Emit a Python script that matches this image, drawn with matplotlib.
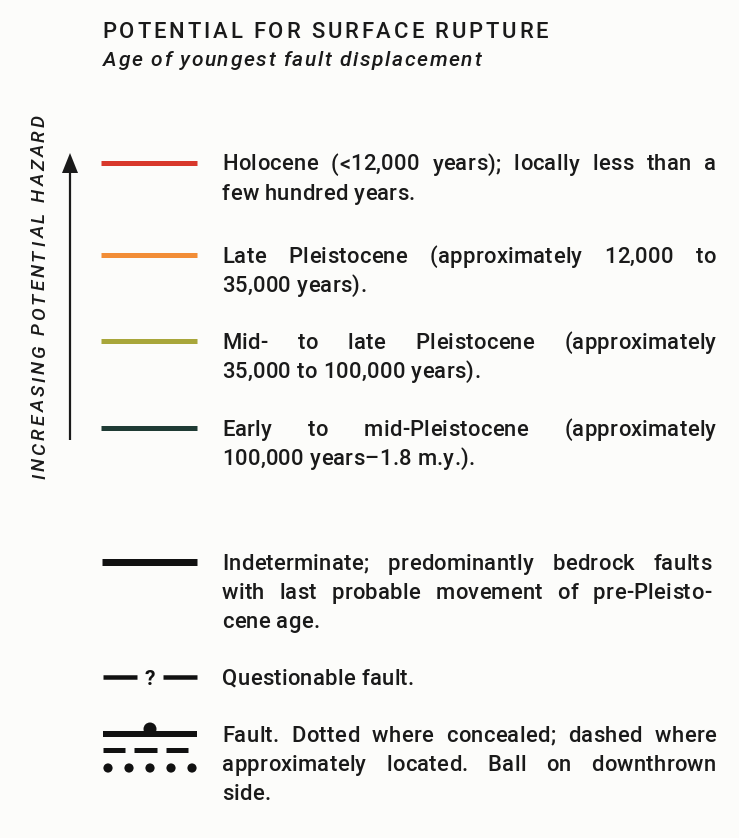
import matplotlib
matplotlib.use("Agg")
import matplotlib.pyplot as plt
from matplotlib import font_manager as fm
from matplotlib.textpath import TextPath
from matplotlib.patches import Circle, Polygon

# ---------------- data ----------------
TITLE = "POTENTIAL FOR SURFACE RUPTURE"
SUBTITLE = "Age of youngest fault displacement"
AXIS_LABEL = "INCREASING POTENTIAL HAZARD"

AGE_COLORS = ["#d8382b", "#f28d36", "#a8a63a", "#1f3b34"]
AGE_LABELS = [
    ["Holocene (<12,000 years); locally less than a", "few hundred years."],
    ["Late Pleistocene (approximately 12,000 to", "35,000 years)."],
    ["Mid- to late Pleistocene (approximately", "35,000 to 100,000 years)."],
    ["Early to mid-Pleistocene (approximately", "100,000 years\u20131.8 m.y.)."],
]
OTHER_LABELS = [
    ["Indeterminate; predominantly bedrock faults",
     "with last probable movement of pre-Pleisto-",
     "cene age."],
    ["Questionable fault."],
    ["Fault. Dotted where concealed; dashed where",
     "approximately located. Ball on downthrown",
     "side."],
]
N_DASHES = 3
N_DOTS = 5

# ---------------- layout ----------------
DPI = 100
W, H = 739, 838
BG = "#fcfcfa"
INK = "#1a1a1a"

avail = {f.name for f in fm.fontManager.ttflist}
PREF = ["Roboto", "Liberation Sans", "DejaVu Sans"]
FAM = next(f for f in PREF if f in avail or f == "DejaVu Sans")
WEIGHT = 500

fig = plt.figure(figsize=(W / DPI, H / DPI), dpi=DPI, facecolor=BG)
ax = fig.add_axes([0, 0, 1, 1])
ax.set_xlim(0, W)
ax.set_ylim(H, 0)
ax.axis("off")
ax.set_facecolor(BG)

_cache = {}


def adv(c, size, style):
    key = (c, size, style)
    if key not in _cache:
        fp = fm.FontProperties(family=FAM, style=style, weight=WEIGHT)
        a = TextPath((0, 0), "x" + c + "x", size=size, prop=fp).get_extents().width
        b = TextPath((0, 0), "xx", size=size, prop=fp).get_extents().width
        _cache[key] = a - b
    return _cache[key]


def tracking_for(s, size, style, target):
    tot = sum(adv(c, size, style) for c in s)
    return (target - tot) / (len(s) - 1)


def draw_line(x0, y0, s, size, style="normal", track=0.0, target=None,
              rotation=0, color=INK):
    advs = [adv(c, size, style) for c in s]
    nat = sum(advs) + track * (len(s) - 1)
    nsp = s.count(" ")
    extra = (target - nat) / nsp if (target is not None and nsp) else 0.0
    pos = 0.0
    for c, a in zip(s, advs):
        if c != " ":
            if rotation == 90:
                xy = (x0, y0 - pos)
            else:
                xy = (x0 + pos, y0)
            ax.text(*xy, c, fontsize=size * 72 / DPI, family=FAM, style=style,
                    weight=WEIGHT, color=color, ha="left", va="baseline",
                    rotation=rotation, rotation_mode="anchor")
        pos += a + track + (extra if c == " " else 0.0)


# title & subtitle
TS = 22
draw_line(102, 38.5, TITLE, TS, track=tracking_for(TITLE, TS, "normal", 446))
draw_line(103, 65.5, SUBTITLE, 21, style="italic",
          track=tracking_for(SUBTITLE, 21, "italic", 378))

# rotated axis label + arrow
RS = 19
draw_line(45, 479, AXIS_LABEL, RS, style="italic", rotation=90,
          track=tracking_for(AXIS_LABEL, RS, "italic", 364))
ax.plot([70, 70], [440, 168], color=INK, lw=1.6, solid_capstyle="butt")
ax.add_patch(Polygon([(70, 153), (62, 173), (78, 173)], closed=True,
                     color=INK, lw=0))

# body text
BS = 22
BTRACK = tracking_for("Questionable fault.", BS, "normal", 192)
TX = 222
RIGHT = 716
LSP = 29


def paragraph(y_sym, lines, right=RIGHT):
    for i, ln in enumerate(lines):
        last = i == len(lines) - 1
        draw_line(TX, y_sym + 7.5 + i * LSP, ln, BS, track=BTRACK,
                  target=None if last else right - TX)


X0, X1 = 101, 197
age_y = [163, 255, 341, 428]
for y, col, lines in zip(age_y, AGE_COLORS, AGE_LABELS):
    ax.plot([X0, X1], [y, y], color=col, lw=5 * 72 / DPI, solid_capstyle="butt")
    paragraph(y, lines)

# indeterminate
y_ind = 562
ax.plot([X0 + 1, X1], [y_ind, y_ind], color="#111111", lw=7 * 72 / DPI,
        solid_capstyle="butt")
paragraph(y_ind, OTHER_LABELS[0], right=711)

# questionable
y_q = 677
ax.plot([103, 137], [y_q, y_q], color="#111111", lw=4.5 * 72 / DPI,
        solid_capstyle="butt")
ax.plot([163, X1], [y_q, y_q], color="#111111", lw=4.5 * 72 / DPI,
        solid_capstyle="butt")
ax.text(150, y_q + 7.5, "?", fontsize=21 * 72 / DPI, family=FAM, weight="bold",
        color="#111111", ha="center", va="baseline")
paragraph(y_q, OTHER_LABELS[1])

# fault symbol
y_f = 734
ax.plot([103, X1], [y_f, y_f], color="#111111", lw=6 * 72 / DPI,
        solid_capstyle="butt")
ax.add_patch(Circle((150, y_f - 5), 6.5, color="#111111", lw=0))
y_d = 750
seg = (X1 - 103) / N_DASHES
for k in range(N_DASHES):
    a = 103 + k * seg
    ax.plot([a, a + seg - 9], [y_d, y_d], color="#111111", lw=5 * 72 / DPI,
            solid_capstyle="butt")
y_o = 768
step = (192 - 108) / (N_DOTS - 1)
for k in range(N_DOTS):
    ax.add_patch(Circle((108 + k * step, y_o), 4.6, color="#111111", lw=0))
paragraph(y_f, OTHER_LABELS[2])

fig.savefig("out.png", dpi=DPI, facecolor=BG)
